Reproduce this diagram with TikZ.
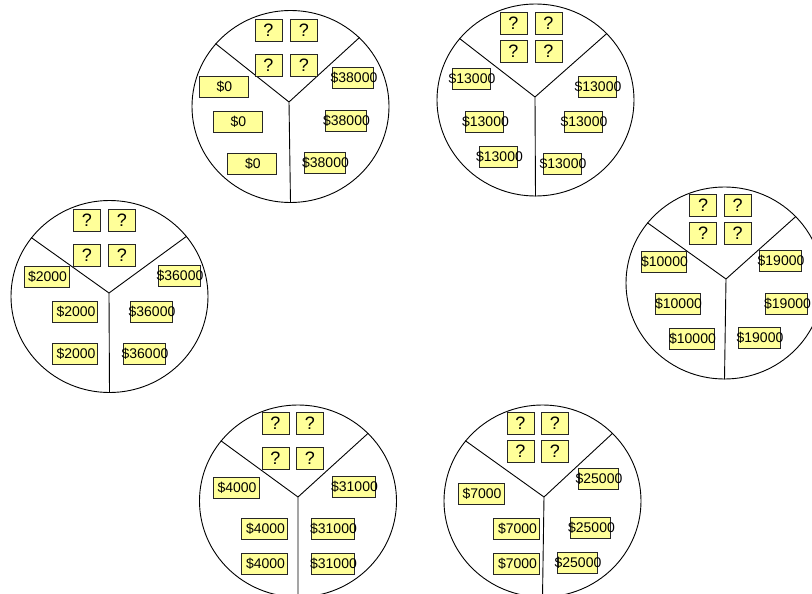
\documentclass[tikz,border=0pt]{standalone}
\usepackage{fontspec}
\setmainfont{Liberation Sans}
\usepackage{tikz}
\usetikzlibrary{shapes.geometric}
\definecolor{notefill}{RGB}{255, 255, 153}
\newcommand{\amount}[1]{\makebox[0pt]{\hspace{2pt}\$#1}}

\begin{document}
\begin{tikzpicture}[x=1pt, y=-1pt, line width=0.9pt,
  pie/.style={draw, ellipse, minimum width=197pt, minimum height=192pt, inner sep=0pt},
  qbox/.style={draw=black!85, line width=0.8pt, fill=notefill, minimum width=27pt, minimum height=22pt, inner sep=0pt, font=\fontsize{18}{18}\selectfont},
  mbox/.style={draw=black!85, line width=0.8pt, fill=notefill, minimum height=21pt, inner sep=0pt, font=\fontsize{14}{14}\selectfont}
]
  \useasboundingbox (0,0) rectangle (812,594);

  \node[pie] (c1) at (290.5,106.5) {};
  \coordinate (j1) at (289,102);
  \draw (c1.140) -- (j1) -- (c1.45) (j1) -- (c1.south);
  \node[pie] (c2) at (535.5,100) {};
  \coordinate (j2) at (535,97);
  \draw (c2.141) -- (j2) -- (c2.43) (j2) -- (c2.south);
  \node[pie] (c3) at (109.5,296.5) {};
  \coordinate (j3) at (109,293);
  \draw (c3.143) -- (j3) -- (c3.38) (j3) -- (c3.south);
  \node[pie] (c4) at (298,501) {};
  \coordinate (j4) at (298,497);
  \draw (c4.142) -- (j4) -- (c4.44) (j4) -- (c4.south);
  \node[pie] (c5) at (542.5,501) {};
  \coordinate (j5) at (544,497);
  \draw (c5.142) -- (j5) -- (c5.44) (j5) -- (c5.south);
  \node[pie] (c6) at (724.5,283) {};
  \coordinate (j6) at (726,279);
  \draw (c6.142) -- (j6) -- (c6.43) (j6) -- (c6.south);

  \node[qbox] (q1a) at (268.5,30) {?};
  \node[qbox] (q1b) at (304,30) {?};
  \node[qbox] (q1c) at (268.5,65) {?};
  \node[qbox] (q1d) at (304,65) {?};
  \node[mbox, minimum width=49pt] (l1a) at (223.5,86.5) {\amount{0}};
  \node[mbox, minimum width=49pt] (l1b) at (237.5,121.5) {\amount{0}};
  \node[mbox, minimum width=49pt] (l1c) at (252,163.5) {\amount{0}};
  \node[mbox, minimum width=41pt] (r1a) at (353,78) {\amount{38000}};
  \node[mbox, minimum width=41pt] (r1b) at (345.5,121) {\amount{38000}};
  \node[mbox, minimum width=41pt] (r1c) at (324.5,163) {\amount{38000}};

  \node[qbox] (q2a) at (513.5,23.5) {?};
  \node[qbox] (q2b) at (548.5,23.5) {?};
  \node[qbox] (q2c) at (513.5,51.5) {?};
  \node[qbox] (q2d) at (548.5,51.5) {?};
  \node[mbox, minimum width=38pt] (l2a) at (471,79) {\amount{13000}};
  \node[mbox, minimum width=38pt] (l2b) at (484.5,121.5) {\amount{13000}};
  \node[mbox, minimum width=38pt] (l2c) at (498.5,156.5) {\amount{13000}};
  \node[mbox, minimum width=38pt] (r2a) at (597,86.5) {\amount{13000}};
  \node[mbox, minimum width=38pt] (r2b) at (583,121.5) {\amount{13000}};
  \node[mbox, minimum width=38pt] (r2c) at (562,163.5) {\amount{13000}};

  \node[qbox] (q3a) at (87,220) {?};
  \node[qbox] (q3b) at (122,220) {?};
  \node[qbox] (q3c) at (87,255.5) {?};
  \node[qbox] (q3d) at (122,255.5) {?};
  \node[mbox, minimum width=45pt] (l3a) at (46.5,276.5) {\amount{2000}};
  \node[mbox, minimum width=45pt] (l3b) at (75,311.5) {\amount{2000}};
  \node[mbox, minimum width=45pt] (l3c) at (75,353.5) {\amount{2000}};
  \node[mbox, minimum width=42pt] (r3a) at (179,276) {\amount{36000}};
  \node[mbox, minimum width=42pt] (r3b) at (151,311.5) {\amount{36000}};
  \node[mbox, minimum width=42pt] (r3c) at (144,353.5) {\amount{36000}};

  \node[qbox] (q4a) at (275.5,423.5) {?};
  \node[qbox] (q4b) at (310,423.5) {?};
  \node[qbox] (q4c) at (275.5,458.5) {?};
  \node[qbox] (q4d) at (310,458.5) {?};
  \node[mbox, minimum width=46pt] (l4a) at (236,487.5) {\amount{4000}};
  \node[mbox, minimum width=46pt] (l4b) at (264.5,529) {\amount{4000}};
  \node[mbox, minimum width=46pt] (l4c) at (264.5,564) {\amount{4000}};
  \node[mbox, minimum width=43pt] (r4a) at (353.5,487) {\amount{31000}};
  \node[mbox, minimum width=43pt] (r4b) at (332.5,528.5) {\amount{31000}};
  \node[mbox, minimum width=43pt] (r4c) at (332.5,563.5) {\amount{31000}};

  \node[qbox] (q5a) at (520.5,423) {?};
  \node[qbox] (q5b) at (555,423) {?};
  \node[qbox] (q5c) at (520.5,451.5) {?};
  \node[qbox] (q5d) at (555,451.5) {?};
  \node[mbox, minimum width=46pt] (l5a) at (481,494) {\amount{7000}};
  \node[mbox, minimum width=46pt] (l5b) at (516.5,529) {\amount{7000}};
  \node[mbox, minimum width=46pt] (l5c) at (516.5,564) {\amount{7000}};
  \node[mbox, minimum width=40pt] (r5a) at (598,479) {\amount{25000}};
  \node[mbox, minimum width=40pt] (r5b) at (590.5,528) {\amount{25000}};
  \node[mbox, minimum width=40pt] (r5c) at (577,563) {\amount{25000}};

  \node[qbox] (q6a) at (703,205.5) {?};
  \node[qbox] (q6b) at (737.5,205.5) {?};
  \node[qbox] (q6c) at (703,233.5) {?};
  \node[qbox] (q6d) at (737.5,233.5) {?};
  \node[mbox, minimum width=45pt] (l6a) at (663.5,262) {\amount{10000}};
  \node[mbox, minimum width=45pt] (l6b) at (677.5,304) {\amount{10000}};
  \node[mbox, minimum width=45pt] (l6c) at (691.5,339) {\amount{10000}};
  \node[mbox, minimum width=42pt] (r6a) at (780,261) {\amount{19000}};
  \node[mbox, minimum width=42pt] (r6b) at (786.5,303.5) {\amount{19000}};
  \node[mbox, minimum width=42pt] (r6c) at (759,338) {\amount{19000}};
\end{tikzpicture}
\end{document}
